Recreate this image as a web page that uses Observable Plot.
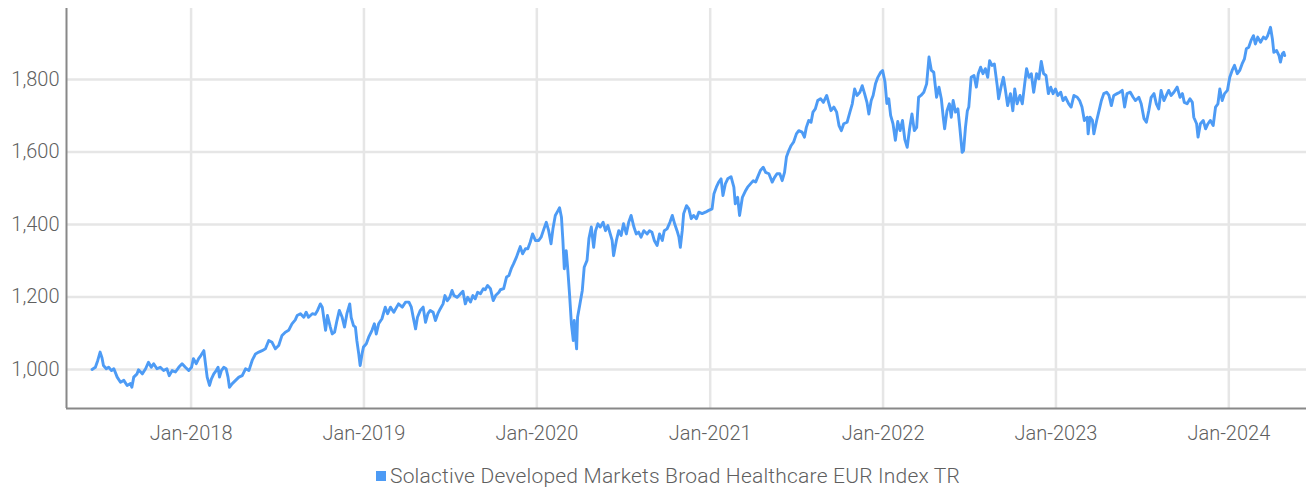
<!DOCTYPE html>
<html><head><meta charset="utf-8">
<script src="https://cdn.jsdelivr.net/npm/d3@7"></script>
<script src="https://cdn.jsdelivr.net/npm/@observablehq/plot@0.6"></script>
<style>
body{margin:0;background:#fff;font-family:Roboto,sans-serif;}
#wrap{position:relative;width:1306px;height:493px;overflow:hidden;}
#legend{position:absolute;left:376px;top:464px;display:flex;align-items:center;font-size:21px;letter-spacing:0.2px;font-weight:300;color:#5f5f5f;white-space:nowrap;}
#legend .sw{display:inline-block;width:10px;height:10px;background:#4d9bf5;margin-right:4px;}
</style></head><body>
<div id="wrap"><div id="chart"></div><div id="legend"><span class="sw"></span><span id="legendText"></span></div></div>
<script>
const seriesName = "Solactive Developed Markets Broad Healthcare EUR Index TR";
const baseDate = "2018-01-01"; // day offsets below are days since this date
const dayOffsets = [
-209,-202,-197,-192,-188,-185,-179,-174,-168,-163,-156,-149,-142,-135,-128,-125,-121,-114,-111,-103,
-96,-90,-84,-79,-72,-65,-58,-51,-46,-40,-33,-26,-19,-12,-5,1,5,11,16,21,
27,30,34,39,43,48,53,57,60,64,69,74,78,81,87,94,101,108,115,122,
129,136,143,150,157,164,171,178,185,192,199,206,213,220,224,231,238,243,248,256,
262,267,273,277,280,284,288,294,298,303,308,313,319,324,329,335,338,343,347,350,
354,357,361,364,370,375,382,387,391,396,403,410,415,421,428,434,438,446,453,460,
465,469,474,478,484,490,495,500,505,511,516,521,526,532,536,541,546,551,555,562,
569,574,579,584,590,595,600,605,611,617,621,626,632,638,643,650,653,660,666,671,
676,681,687,692,695,700,706,711,716,721,727,734,739,745,750,755,760,764,769,775,
778,782,785,788,792,795,799,803,807,809,814,816,821,826,830,836,840,845,850,854,
859,864,870,875,880,885,889,892,898,903,908,913,919,924,929,935,940,945,950,956,
963,968,973,978,984,989,995,999,1005,1011,1016,1021,1026,1030,1033,1037,1040,1046,1051,1056,
1061,1067,1072,1079,1086,1093,1100,1104,1109,1114,1119,1123,1128,1133,1140,1146,1149,1154,1158,1164,
1171,1175,1181,1187,1192,1196,1202,1208,1213,1220,1227,1232,1237,1243,1248,1253,1257,1262,1267,1272,
1278,1283,1290,1295,1299,1304,1309,1313,1318,1323,1329,1335,1342,1346,1351,1357,1363,1368,1373,1378,
1385,1391,1396,1401,1406,1412,1417,1422,1427,1431,1436,1440,1445,1450,1456,1460,1465,1469,1473,1477,
1482,1487,1492,1497,1502,1507,1512,1517,1522,1527,1532,1536,1541,1547,1553,1558,1563,1568,1574,1579,
1584,1588,1591,1596,1601,1605,1609,1614,1619,1623,1628,1631,1635,1639,1642,1647,1653,1658,1662,1667,
1672,1677,1682,1686,1691,1696,1702,1705,1710,1715,1719,1724,1730,1735,1739,1744,1750,1755,1760,1764,
1769,1774,1779,1785,1790,1795,1800,1805,1810,1815,1820,1825,1830,1836,1841,1846,1853,1858,1864,1871,
1876,1881,1886,1892,1894,1898,1903,1906,1912,1917,1922,1927,1933,1938,1943,1948,1955,1961,1966,1971,
1976,1983,1989,1994,2001,2006,2012,2017,2022,2027,2033,2038,2043,2048,2054,2059,2064,2069,2075,2082,
2088,2093,2097,2103,2109,2114,2117,2123,2126,2131,2137,2142,2147,2152,2158,2163,2168,2172,2177,2182,
2188,2193,2198,2203,2209,2214,2219,2224,2228,2233,2238,2243,2247,2252,2258,2264,2269,2273,2279,2283,
2286,2292,2297,2300,2304,2307,2309
];
const values = [
1000,1006,1025,1048,1032,1011,1002,1006,997,1002,979,965,970,956,961,951,979,988,999,988,
1002,1020,1006,1016,1002,1006,997,1002,983,997,993,1006,1016,1006,997,1006,1030,1016,1030,1039,
1052,1020,979,956,974,988,997,1006,979,997,1006,1002,979,951,961,970,979,983,1002,997,
1025,1043,1048,1052,1057,1080,1075,1057,1066,1094,1103,1108,1126,1137,1149,1154,1144,1158,1144,1154,
1152,1163,1181,1172,1144,1108,1149,1117,1098,1103,1135,1163,1144,1117,1154,1181,1144,1121,1117,1080,
1043,1011,1043,1062,1071,1089,1108,1126,1098,1126,1140,1172,1154,1172,1158,1172,1181,1172,1186,1186,
1172,1144,1112,1144,1163,1172,1130,1154,1163,1158,1135,1154,1167,1181,1204,1190,1199,1218,1204,1199,
1209,1216,1181,1199,1186,1204,1195,1213,1209,1223,1220,1232,1223,1190,1204,1213,1220,1223,1255,1259,
1278,1292,1310,1328,1339,1319,1333,1333,1351,1374,1356,1356,1365,1388,1406,1383,1347,1388,1425,1439,
1446,1420,1356,1278,1328,1282,1209,1126,1080,1135,1057,1144,1181,1218,1282,1301,1361,1393,1337,1383,
1402,1393,1406,1383,1397,1374,1356,1314,1356,1383,1370,1402,1374,1406,1425,1393,1374,1379,1365,1383,
1374,1383,1379,1356,1342,1374,1356,1383,1388,1406,1425,1402,1383,1365,1337,1383,1430,1452,1443,1416,
1425,1416,1434,1430,1434,1439,1443,1485,1503,1517,1526,1480,1512,1526,1532,1503,1457,1475,1425,1475,
1494,1503,1512,1521,1517,1530,1549,1558,1544,1540,1517,1530,1540,1540,1521,1544,1586,1604,1618,1627,
1650,1659,1655,1641,1668,1687,1682,1710,1719,1742,1747,1737,1756,1737,1714,1724,1710,1673,1659,1678,
1682,1710,1733,1774,1756,1765,1783,1761,1737,1705,1742,1756,1788,1806,1820,1825,1794,1734,1747,1701,
1678,1632,1684,1659,1687,1634,1613,1664,1705,1659,1668,1751,1756,1765,1788,1862,1825,1820,1751,1779,
1747,1696,1664,1714,1733,1696,1742,1710,1719,1668,1599,1604,1668,1714,1724,1806,1811,1779,1816,1834,
1816,1830,1806,1852,1839,1843,1783,1747,1779,1806,1774,1728,1761,1714,1774,1733,1756,1733,1788,1830,
1806,1816,1765,1816,1802,1850,1816,1811,1761,1779,1761,1774,1756,1765,1742,1751,1733,1724,1756,1751,
1742,1724,1687,1696,1650,1696,1687,1650,1687,1714,1742,1761,1765,1756,1728,1756,1761,1765,1770,1724,
1761,1765,1751,1742,1751,1733,1692,1682,1714,1751,1761,1733,1719,1770,1742,1756,1770,1756,1765,1779,
1751,1761,1737,1733,1747,1737,1696,1678,1641,1678,1687,1664,1678,1687,1673,1724,1733,1774,1742,1761,
1770,1806,1825,1839,1816,1825,1843,1857,1885,1889,1908,1921,1898,1917,1903,1917,1912,1921,1944,1912,
1875,1880,1866,1848,1871,1875,1866
];
const yTicks = [1000, 1200, 1400, 1600, 1800];
const xTickDates = ["2018-01-01","2019-01-01","2020-01-01","2021-01-01","2022-01-01","2023-01-01","2024-01-01"];
const xDomain = ["2017-04-13", "2024-06-13"];
const yDomain = [892.4, 1995.9];

const base = new Date(baseDate);
const data = dayOffsets.map((d, i) => ({date: d3.utcDay.offset(base, d), value: values[i]}));
const xTicks = xTickDates.map(s => new Date(s));
const xd = xDomain.map(s => new Date(s));

const chart = Plot.plot({
  width: 1306, height: 450,
  marginLeft: 66, marginRight: 0, marginTop: 8, marginBottom: 42,
  style: {fontFamily: "Roboto, sans-serif", fontSize: "20px", fontWeight: 300, color: "#5f5f5f", background: "#fff", overflow: "visible"},
  x: {type: "utc", domain: xd},
  y: {domain: yDomain},
  marks: [
    Plot.ruleY(yTicks, {stroke: "#e6e6e6", strokeWidth: 2.5}),
    Plot.ruleX(xTicks, {stroke: "#e6e6e6", strokeWidth: 2.5}),
    Plot.line(data, {x: "date", y: "value", stroke: "#4d9bf5", strokeWidth: 2.9, strokeLinejoin: "round"}),
    Plot.axisY({ticks: yTicks, tickSize: 0, tickPadding: 7, tickFormat: d3.format(","), label: null, fontSize: 20}),
    Plot.axisX({ticks: xTicks, tickSize: 0, tickPadding: 17, tickFormat: d3.utcFormat("%b-%Y"), label: null, fontSize: 20}),
    Plot.ruleX([xd[0]], {stroke: "#888", strokeWidth: 2}),
    Plot.ruleY([yDomain[0]], {stroke: "#888", strokeWidth: 2})
  ]
});
document.getElementById("chart").append(chart);
document.getElementById("legendText").textContent = seriesName;
</script>
</body></html>
